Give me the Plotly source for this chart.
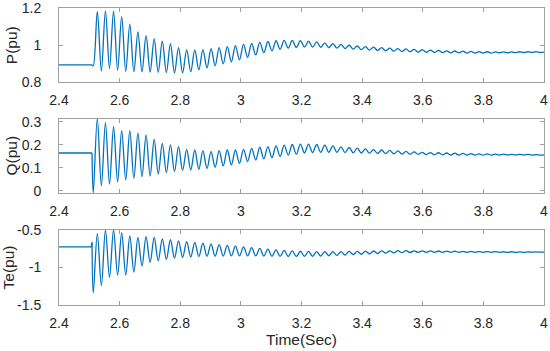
import plotly.graph_objects as go
from plotly.subplots import make_subplots

# ---------------- data ----------------
x_tick_vals = [2.4, 2.6, 2.8, 3.0, 3.2, 3.4, 3.6, 3.8, 4.0]
x_tick_text = ["2.4", "2.6", "2.8", "3", "3.2", "3.4", "3.6", "3.8", "4"]

p_tick_vals = [0.8, 1.0, 1.2]
p_tick_text = ["0.8", "1", "1.2"]
q_tick_vals = [0.0, 0.1, 0.2, 0.3]
q_tick_text = ["0", "0.1", "0.2", "0.3"]
te_tick_vals = [-1.5, -1.0, -0.5]
te_tick_text = ["-1.5", "-1", "-0.5"]

# pre-fault samples
p_pre_t = [2.4, 2.509]
p_pre_v = [0.895, 0.895]
q_pre_t = [2.4, 2.509]
q_pre_v = [0.165, 0.165]
te_pre_t = [2.4, 2.506, 2.509]
te_pre_v = [-0.724, -0.724, -0.665]

# times of the successive extrema (troughs / peaks) after the fault
t_ext = [
    2.513, 2.5264, 2.5398, 2.5532, 2.5666, 2.5800, 2.5934, 2.6068, 2.6202, 2.6336,
    2.6470, 2.6604, 2.6738, 2.6872, 2.7006, 2.7140, 2.7274, 2.7408, 2.7542, 2.7676,
    2.7810, 2.7944, 2.8078, 2.8212, 2.8346, 2.8480, 2.8614, 2.8748, 2.8882, 2.9016,
    2.9150, 2.9284, 2.9418, 2.9552, 2.9686, 2.9820, 2.9954, 3.0088, 3.0222, 3.0356,
    3.0490, 3.0624, 3.0758, 3.0892, 3.1026, 3.1160, 3.1294, 3.1428, 3.1562, 3.1696,
    3.1830, 3.1964, 3.2098, 3.2232, 3.2366, 3.2500, 3.2634, 3.2768, 3.2902, 3.3036,
    3.3170, 3.3304, 3.3438, 3.3572, 3.3706, 3.3840, 3.3974, 3.4108, 3.4242, 3.4376,
    3.4510, 3.4644, 3.4778, 3.4912, 3.5046, 3.5180, 3.5314, 3.5448, 3.5582, 3.5716,
    3.5850, 3.5984, 3.6118, 3.6252, 3.6386, 3.6520, 3.6654, 3.6788, 3.6922, 3.7056,
    3.7190, 3.7324, 3.7458, 3.7592, 3.7726, 3.7860, 3.7994, 3.8128, 3.8262, 3.8396,
    3.8530, 3.8664, 3.8798, 3.8932, 3.9066, 3.9200, 3.9334, 3.9468, 3.9602, 3.9736,
    3.9870, 4.0,
]

p_vals = [
    0.890, 1.180, 0.862, 1.185, 0.875, 1.183, 0.865, 1.153, 0.860, 1.113,
    0.858, 1.071, 0.857, 1.052, 0.856, 1.034, 0.855, 1.022, 0.853, 1.008,
    0.852, 0.987, 0.852, 0.975, 0.858, 0.975, 0.868, 0.977, 0.878, 0.982,
    0.890, 0.987, 0.900, 0.993, 0.910, 0.998, 0.922, 1.005, 0.935, 1.010,
    0.948, 1.015, 0.960, 1.020, 0.970, 1.024, 0.978, 1.026, 0.984, 1.026,
    0.988, 1.025, 0.990, 1.022, 0.990, 1.018, 0.989, 1.013, 0.987, 1.009,
    0.985, 1.005, 0.982, 1.000, 0.979, 0.996, 0.976, 0.993, 0.974, 0.990,
    0.972, 0.987, 0.970, 0.984, 0.968, 0.982, 0.966, 0.980, 0.965, 0.978,
    0.963, 0.976, 0.962, 0.974, 0.961, 0.972, 0.960, 0.970, 0.959, 0.969,
    0.959, 0.968, 0.958, 0.967, 0.958, 0.966, 0.958, 0.965, 0.958, 0.964,
    0.959, 0.964, 0.959, 0.964, 0.960, 0.965, 0.960, 0.965, 0.961, 0.966,
    0.961, 0.963,
]

q_vals = [
    -0.009, 0.315, 0.022, 0.297, 0.030, 0.280, 0.040, 0.262, 0.048, 0.262,
    0.055, 0.251, 0.062, 0.243, 0.065, 0.224, 0.074, 0.207, 0.080, 0.200,
    0.084, 0.193, 0.089, 0.181, 0.091, 0.178, 0.094, 0.174, 0.098, 0.171,
    0.103, 0.175, 0.109, 0.178, 0.113, 0.178, 0.120, 0.181, 0.128, 0.185,
    0.135, 0.190, 0.140, 0.193, 0.145, 0.196, 0.150, 0.199, 0.156, 0.202,
    0.160, 0.204, 0.165, 0.204, 0.167, 0.202, 0.168, 0.199, 0.168, 0.196,
    0.168, 0.192, 0.167, 0.189, 0.166, 0.186, 0.165, 0.183, 0.164, 0.180,
    0.163, 0.178, 0.162, 0.176, 0.161, 0.174, 0.160, 0.172, 0.159, 0.170,
    0.159, 0.168, 0.158, 0.167, 0.157, 0.166, 0.157, 0.165, 0.156, 0.164,
    0.156, 0.163, 0.156, 0.162, 0.156, 0.161, 0.156, 0.161, 0.156, 0.160,
    0.156, 0.160, 0.156, 0.159, 0.156, 0.159, 0.156, 0.159, 0.156, 0.158,
    0.156, 0.157,
]

te_vals = [
    -1.340, -0.550, -1.240, -0.500, -1.130, -0.500, -1.100, -0.540, -1.100, -0.580,
    -1.060, -0.600, -0.980, -0.590, -0.930, -0.600, -0.910, -0.620, -0.890, -0.630,
    -0.875, -0.645, -0.865, -0.655, -0.860, -0.665, -0.855, -0.675, -0.852, -0.685,
    -0.850, -0.695, -0.848, -0.705, -0.846, -0.715, -0.845, -0.725, -0.845, -0.735,
    -0.846, -0.745, -0.848, -0.755, -0.850, -0.765, -0.852, -0.772, -0.853, -0.778,
    -0.853, -0.783, -0.852, -0.786, -0.850, -0.788, -0.847, -0.789, -0.843, -0.789,
    -0.838, -0.788, -0.833, -0.786, -0.828, -0.784, -0.823, -0.782, -0.818, -0.780,
    -0.813, -0.778, -0.808, -0.777, -0.805, -0.776, -0.802, -0.776, -0.800, -0.777,
    -0.798, -0.778, -0.797, -0.779, -0.797, -0.780, -0.797, -0.782, -0.797, -0.783,
    -0.797, -0.785, -0.797, -0.786, -0.797, -0.787, -0.797, -0.788, -0.797, -0.789,
    -0.797, -0.790, -0.797, -0.790, -0.797, -0.791, -0.797, -0.791, -0.796, -0.792,
    -0.796, -0.794,
]

# ---------------- figure ----------------
BLUE = "#0072BD"
FONT = "Arial, 'Liberation Sans', sans-serif"
AX_COLOR = "#a0a0a0"
TXT_COLOR = "#262626"

fig = make_subplots(rows=3, cols=1)

signals = [
    (p_pre_t, p_pre_v, p_vals),
    (q_pre_t, q_pre_v, q_vals),
    (te_pre_t, te_pre_v, te_vals),
]
for row, (pre_t, pre_v, vals) in enumerate(signals, start=1):
    fig.add_trace(go.Scatter(x=pre_t, y=pre_v, mode="lines",
                             line=dict(color=BLUE, width=1.3),
                             showlegend=False, hoverinfo="skip"), row=row, col=1)
    fig.add_trace(go.Scatter(x=[pre_t[-1]] + t_ext, y=[pre_v[-1]] + vals, mode="lines",
                             line=dict(color=BLUE, width=1.3, shape="spline", smoothing=1.0),
                             showlegend=False, hoverinfo="skip"), row=row, col=1)

common = dict(showline=True, linecolor=AX_COLOR, linewidth=1, mirror="ticks",
              ticks="inside", ticklen=4, tickcolor=AX_COLOR, tickwidth=1,
              showgrid=False, zeroline=False, automargin=False,
              ticklabeloverflow="allow",
              tickfont=dict(family=FONT, size=14, color=TXT_COLOR))

for i in (1, 2, 3):
    fig.update_xaxes(range=[2.4, 4.0], tickmode="array", tickvals=x_tick_vals,
                     ticktext=x_tick_text, ticklabelstandoff=5,
                     row=i, col=1, **common)

ytitle_font = dict(family=FONT, size=15.5, color=TXT_COLOR)
fig.update_yaxes(range=[0.8, 1.2], tickmode="array", tickvals=p_tick_vals, ticktext=p_tick_text,
                 domain=[0.7492, 1.0], row=1, col=1, ticklabelstandoff=14,
                 title=dict(text="P(pu)", font=ytitle_font, standoff=0), **common)
fig.update_yaxes(range=[-0.009, 0.315], tickmode="array", tickvals=q_tick_vals, ticktext=q_tick_text,
                 domain=[0.3771, 0.6279], row=2, col=1, ticklabelstandoff=14,
                 title=dict(text="Q(pu)", font=ytitle_font, standoff=0), **common)
fig.update_yaxes(range=[-1.5, -0.5], tickmode="array", tickvals=te_tick_vals, ticktext=te_tick_text,
                 domain=[0.0, 0.2525], row=3, col=1, ticklabelstandoff=14,
                 title=dict(text="Te(pu)", font=ytitle_font, standoff=0), **common)
fig.update_xaxes(title=dict(text="Time(Sec)", font=dict(family=FONT, size=15.5, color=TXT_COLOR), standoff=0),
                 row=3, col=1)

fig.update_layout(width=550, height=351, margin=dict(l=59, r=6, t=8, b=46),
                  paper_bgcolor="white", plot_bgcolor="white",
                  font=dict(family=FONT, color=TXT_COLOR))

fig.write_html("out.html", config={"displayModeBar": False},
               post_script="document.body.style.margin='0';document.body.style.padding='0';")
